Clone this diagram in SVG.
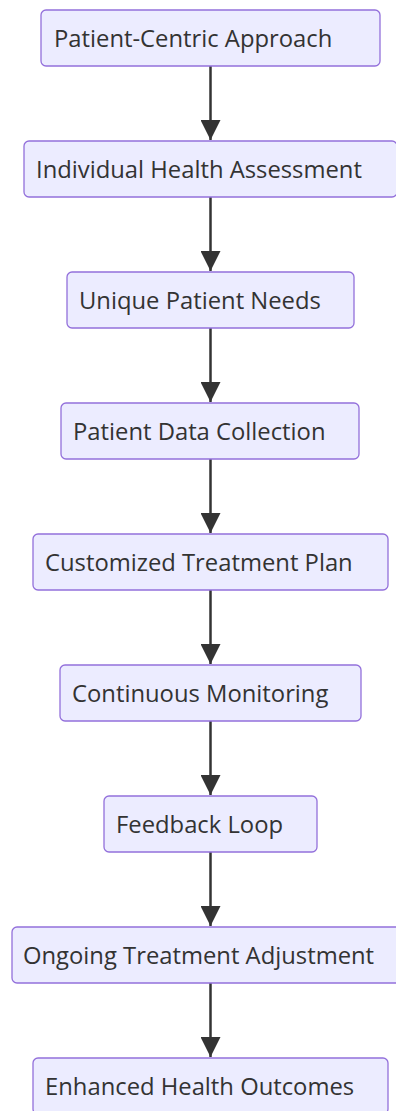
<svg xmlns="http://www.w3.org/2000/svg" width="396" height="1111" viewBox="0 0 396 1111">
<defs>
<style>
.node rect{fill:#ECECFF;stroke:#9370DB;stroke-width:1.3}
.node text{font-family:"Open Sans","Noto Sans",sans-serif;font-size:23.8px;fill:#333}
.edge{stroke:#333;stroke-width:2.5;fill:none}
</style>
<marker id="arrow" viewBox="0 0 10 10" refX="10" refY="5" markerUnits="userSpaceOnUse" markerWidth="20" markerHeight="20" orient="auto">
<path d="M0,0 L10,5 L0,10 Z" fill="#333"/>
</marker>
</defs>
<rect width="396" height="1111" fill="#fff"/>
<g id="connectors">
<line class="edge" x1="210.5" y1="66" x2="210.5" y2="140" marker-end="url(#arrow)"/>
<line class="edge" x1="210.5" y1="197" x2="210.5" y2="271" marker-end="url(#arrow)"/>
<line class="edge" x1="210.5" y1="328" x2="210.5" y2="402" marker-end="url(#arrow)"/>
<line class="edge" x1="210.5" y1="459" x2="210.5" y2="533" marker-end="url(#arrow)"/>
<line class="edge" x1="210.5" y1="590" x2="210.5" y2="664" marker-end="url(#arrow)"/>
<line class="edge" x1="210.5" y1="721" x2="210.5" y2="795" marker-end="url(#arrow)"/>
<line class="edge" x1="210.5" y1="852" x2="210.5" y2="926" marker-end="url(#arrow)"/>
<line class="edge" x1="210.5" y1="983" x2="210.5" y2="1057" marker-end="url(#arrow)"/>
</g>
<g id="n1" class="node"><rect x="41" y="10" width="339" height="56" rx="5"/><text x="54" y="46.5">Patient-Centric Approach</text></g>
<g id="n2" class="node"><rect x="24" y="141" width="373" height="56" rx="5"/><text x="36" y="177.5">Individual Health Assessment</text></g>
<g id="n3" class="node"><rect x="67" y="272" width="287" height="56" rx="5"/><text x="79" y="308.5">Unique Patient Needs</text></g>
<g id="n4" class="node"><rect x="61" y="403" width="298" height="56" rx="5"/><text x="73" y="439.5">Patient Data Collection</text></g>
<g id="n5" class="node"><rect x="33" y="534" width="355" height="56" rx="5"/><text x="45" y="570.5">Customized Treatment Plan</text></g>
<g id="n6" class="node"><rect x="60" y="665" width="301" height="56" rx="5"/><text x="72" y="701.5">Continuous Monitoring</text></g>
<g id="n7" class="node"><rect x="104" y="796" width="213" height="56" rx="5"/><text x="116" y="832.5">Feedback Loop</text></g>
<g id="n8" class="node"><rect x="12" y="927" width="397" height="56" rx="5"/><text x="23" y="963.5">Ongoing Treatment Adjustment</text></g>
<g id="n9" class="node"><rect x="33" y="1058" width="355" height="56" rx="5"/><text x="45" y="1094.5">Enhanced Health Outcomes</text></g>
</svg>
